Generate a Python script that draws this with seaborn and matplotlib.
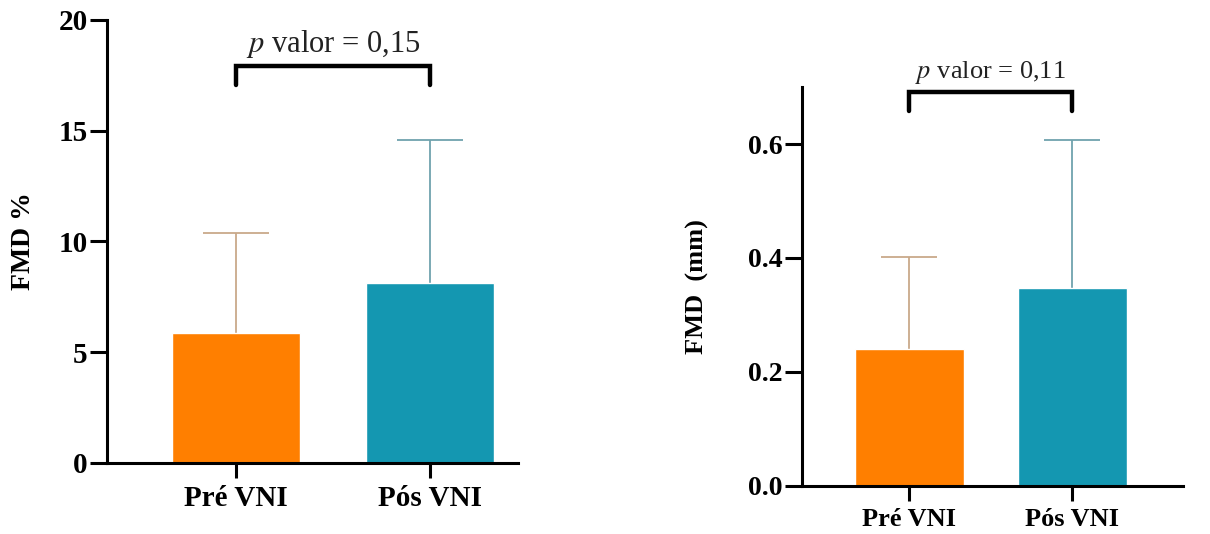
import matplotlib
matplotlib.use('Agg')
import matplotlib.pyplot as plt
import seaborn as sns
import pandas as pd

# Dados (média e desvio padrão)
grupos = ['Pré VNI', 'Pós VNI']
fmd_pct_media = [5.87, 8.13]
fmd_pct_dp = [4.51, 6.45]
fmd_mm_media = [0.240, 0.347]
fmd_mm_dp = [0.162, 0.260]
p_valores = ['0,15', '0,11']

cores_barras = ['#FF7F00', '#1497B1']
cores_erro = ['#C9A98A', '#6FA3AE']

sns.set_theme(style='ticks')
plt.rcParams['font.family'] = ['Liberation Serif', 'DejaVu Serif']
plt.rcParams['mathtext.fontset'] = 'stix'
plt.rcParams['axes.linewidth'] = 2.2
plt.rcParams['axes.edgecolor'] = 'black'
plt.rcParams['xtick.color'] = 'black'
plt.rcParams['ytick.color'] = 'black'
plt.rcParams['axes.labelcolor'] = 'black'
plt.rcParams['text.color'] = 'black'

fig = plt.figure(figsize=(12.1, 5.34), dpi=100)
ax1 = fig.add_axes([0.0884, 0.133, 0.340, 0.830])
ax2 = fig.add_axes([0.663, 0.090, 0.315, 0.747])


def painel(ax, medias, dps, ylim, yticks, ylabel, labelpad, xlim, largura, cap,
           chave_y, texto_y, p_txt, fs_tick, fs_cat, fs_lab, fs_txt):
    df = pd.DataFrame({'grupo': grupos, 'valor': medias})
    sns.barplot(data=df, x='grupo', y='valor', hue='grupo', palette=cores_barras,
                width=largura, errorbar=None, legend=False, ax=ax, saturation=1,
                zorder=2)
    for i, (m, s) in enumerate(zip(medias, dps)):
        _, caps, _ = ax.errorbar(i, m, yerr=[[0], [s]], color=cores_erro[i], lw=1.3,
                                 capsize=cap, capthick=1.3, zorder=1)
        caps[0].set_visible(False)
    ax.set_ylim(*ylim)
    ax.set_xlim(*xlim)
    ax.set_yticks(yticks)
    ax.set_xlabel('')
    ax.set_ylabel(ylabel, fontsize=fs_lab, fontweight='bold', labelpad=labelpad)
    sns.despine(ax=ax)
    ax.tick_params(axis='y', length=12, width=2.2, labelsize=fs_tick, pad=2)
    ax.tick_params(axis='x', length=11, width=2.2, labelsize=fs_cat, pad=5)
    for t in ax.get_xticklabels() + ax.get_yticklabels():
        t.set_fontweight('bold')
    # chave de significância
    y0, y1 = chave_y
    ax.plot([0, 0, 1, 1], [y0, y1, y1, y0], color='black', lw=3.2,
            solid_joinstyle='miter', clip_on=False)
    ax.text(0.5, texto_y, r'$p$ valor = ' + p_txt, ha='center', va='center',
            fontsize=fs_txt, color='#222222')


painel(ax1, fmd_pct_media, fmd_pct_dp, (0, 20), [0, 5, 10, 15, 20], 'FMD %', 16,
       (-0.665, 1.454), 0.66, 24, (17.07, 17.92), 18.9, p_valores[0], 21, 21, 20, 22)
painel(ax2, fmd_mm_media, fmd_mm_dp, (0, 0.7), [0.0, 0.2, 0.4, 0.6], 'FMD  (mm)', 28,
       (-0.656, 1.68), 0.67, 20, (0.658, 0.691), 0.726, p_valores[1], 20, 19, 19, 19)
ax2.yaxis.set_major_formatter(matplotlib.ticker.FormatStrFormatter('%.1f'))

fig.savefig('out.png', dpi=100)
